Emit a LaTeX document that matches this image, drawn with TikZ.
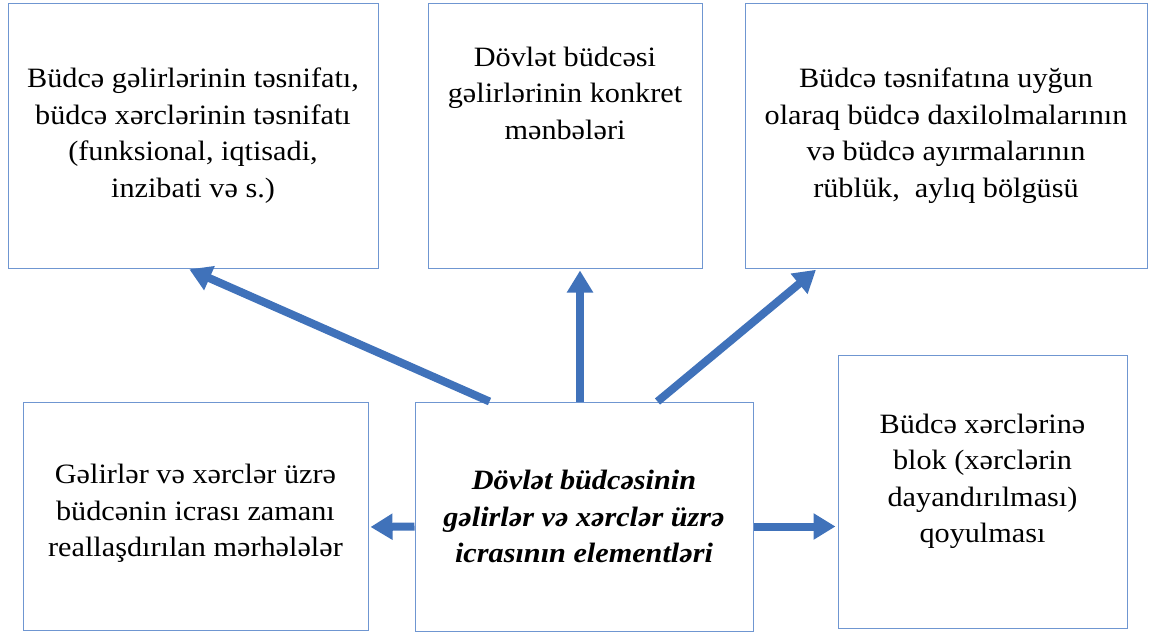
\documentclass[tikz,border=0pt]{standalone}
\usepackage{fontspec}
\setmainfont[FakeStretch=1.08]{Liberation Serif}
\usetikzlibrary{arrows.meta,positioning,calc}
\definecolor{kenar}{HTML}{6F96D1}
\definecolor{oxreng}{HTML}{4072BA}
\tikzset{every picture/.style={line width=0.75pt}}
\tikzset{
  qutu/.style={draw=kenar, line width=1pt, align=center, inner sep=0pt,
    font=\fontsize{28}{36.5}\selectfont},
  oxu/.style={oxreng, line width=8pt, -{Triangle[length=22pt,width=25pt]}, shorten >=2pt}
}

\begin{document}
\begin{tikzpicture}[x=1pt,y=-1pt]
    \useasboundingbox (0,0) rectangle (1150,633);

    % 上排方框
    \node[qutu, minimum width=370pt, minimum height=265pt] (tesnifat) at (193,135.5)
        {Büdcə gəlirlərinin təsnifatı,\\büdcə xərclərinin təsnifatı\\(funksional, iqtisadi,\\inzibati və s.)};
    \node[qutu, minimum width=274pt, minimum height=265pt] (menbe) at (565,135.5)
        {Dövlət büdcəsi\\gəlirlərinin konkret\\mənbələri\\[48pt]\mbox{}};
    \node[qutu, minimum width=402pt, minimum height=265pt] (bolgu) at (946,135.5)
        {Büdcə təsnifatına uyğun\\olaraq büdcə daxilolmalarının\\və büdcə ayırmalarının\\rüblük, \ aylıq bölgüsü};

    % 下排方框
    \node[qutu, minimum width=345pt, minimum height=228pt] (merhele) at (195.5,516)
        {Gəlirlər və xərclər üzrə\\büdcənin icrası zamanı\\reallaşdırılan mərhələlər\\[-26pt]\mbox{}};
    \node[qutu, minimum width=338pt, minimum height=229pt] (icra) at (584,516.5)
        {\bfseries\itshape Dövlət büdcəsinin\\\bfseries\itshape gəlirlər və xərclər üzrə\\\bfseries\itshape icrasının elementləri};
    \node[qutu, minimum width=289pt, minimum height=273pt] (blok) at (982.5,491.5)
        {Büdcə xərclərinə\\blok (xərclərin\\dayandırılması)\\qoyulması\\[-10pt]\mbox{}};

    % 箭头
    \draw[oxu] ($(icra.north west)+(75,0)$) -- ($(tesnifat.south west)+(180,0)$);
    \draw[oxu] ($(icra.north)+(-4,0)$) -- ($(menbe.south)+(15,0)$);
    \draw[oxu] ($(icra.north west)+(243,0)$) -- ($(bolgu.south west)+(73,0)$);
    \draw[oxu] ($(icra.west)+(0,10)$) -- ($(merhele.east)+(0,11)$);
    \draw[oxu] ($(icra.east)+(0,10)$) -- ($(blok.west)+(0,35)$);
\end{tikzpicture}
\end{document}
